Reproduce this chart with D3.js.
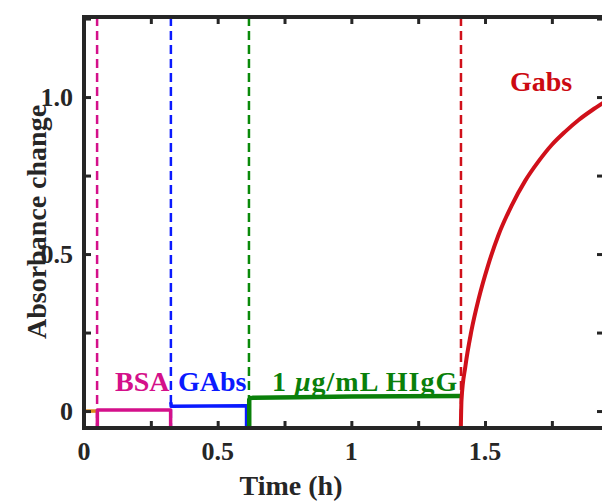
<!DOCTYPE html>
<html>
<head>
<meta charset="utf-8">
<script src="https://cdn.jsdelivr.net/npm/d3@7"></script>
<style>
  body { margin: 0; background: #fff; }
  svg { display: block; }
  text { font-family: "Liberation Serif", "Times New Roman", serif; font-weight: bold; }
</style>
</head>
<body>
<div id="chart"></div>
<script>
// data (time in h, absorbance change)
const xTicks = [0, 0.5, 1, 1.5];
const yTicks = [0, 0.5, 1.0];
const yTickLabels = ['0', '0.5', '1.0'];

const bufferT = [0, 0.049];
const bufferV = [0, 0];

const bsaT = [0.05, 0.05, 0.324, 0.324];
const bsaV = [-0.07, 0.003, 0.003, -0.07];

const gabs1T = [0.325, 0.326, 0.608, 0.608];
const gabs1V = [0.028, 0.015, 0.017, -0.07];

const higgT = [0.618, 0.618, 0.622, 0.63, 0.8, 1.0, 1.2, 1.408];
const higgV = [-0.07, 0.036, 0.041, 0.042, 0.044, 0.046, 0.047, 0.048];

const gabs2T = [1.409, 1.410, 1.412, 1.427, 1.449, 1.477, 1.51, 1.55, 1.60, 1.65, 1.70, 1.75, 1.80, 1.85, 1.90, 1.945];
const gabs2V = [-0.07, -0.03, 0.035, 0.145, 0.255, 0.36, 0.46, 0.56, 0.655, 0.733, 0.795, 0.848, 0.89, 0.927, 0.958, 0.983];

const eventT = [0.049, 0.325, 0.617, 1.41];
const eventColors = ['#d4108a', '#0a1aff', '#0a8a0a', '#d0101a'];

const width = 602;
const height = 501;
const margin = {left: 84, top: 17, right: -2, bottom: 73};

const x = d3.scaleLinear().domain([0, 1.945]).range([margin.left, width - margin.right]);
const y = d3.scaleLinear().domain([-0.054, 1.255]).range([height - margin.bottom, margin.top]);

const svg = d3.select('#chart').append('svg')
    .attr('width', width)
    .attr('height', height);

svg.append('clipPath').attr('id', 'plot')
  .append('rect')
    .attr('x', x(0)).attr('y', y(1.255))
    .attr('width', x(1.945) - x(0))
    .attr('height', y(-0.054) - y(1.255));

const g = svg.append('g').attr('clip-path', 'url(#plot)');

// dashed markers for each injection
g.selectAll('.event')
  .data(eventT)
  .enter()
  .append('line')
    .attr('class', 'event')
    .attr('x1', d => x(d)).attr('x2', d => x(d))
    .attr('y1', y(1.255)).attr('y2', y(-0.054))
    .attr('stroke', (d, i) => eventColors[i])
    .attr('stroke-width', 2.5)
    .attr('stroke-dasharray', '9,5');

const series = [
  {t: bufferT, v: bufferV, color: '#d98a1a', w: 3.5, curve: d3.curveLinear},
  {t: bsaT, v: bsaV, color: '#d4108a', w: 3.5, curve: d3.curveLinear},
  {t: gabs1T, v: gabs1V, color: '#0a1aff', w: 3.5, curve: d3.curveLinear},
  {t: higgT, v: higgV, color: '#0a800a', w: 4.5, curve: d3.curveLinear},
  {t: gabs2T, v: gabs2V, color: '#d0101a', w: 4, curve: d3.curveMonotoneX}
];

series.forEach(s => {
  const line = d3.line()
      .x(d => x(d[0]))
      .y(d => y(d[1]))
      .curve(s.curve);
  g.append('path')
      .datum(s.t.map((t, i) => [t, s.v[i]]))
      .attr('d', line)
      .attr('fill', 'none')
      .attr('stroke', s.color)
      .attr('stroke-width', s.w)
      .attr('stroke-linejoin', 'round');
});

// axes, ticks inward on all four sides
const minorX = d3.range(0, 1.95, 0.25);
const minorY = d3.range(0, 1.26, 0.25);
const axisColor = '#262626';

svg.append('g')
    .attr('transform', `translate(0,${y(-0.054)})`)
    .call(d3.axisBottom(x).tickValues(minorX).tickSize(-7).tickFormat(''))
    .call(a => a.selectAll('line').attr('stroke', axisColor).attr('stroke-width', 3));
svg.append('g')
    .attr('transform', `translate(0,${y(1.255)})`)
    .call(d3.axisTop(x).tickValues(minorX).tickSize(-7).tickFormat(''))
    .call(a => a.selectAll('line').attr('stroke', axisColor).attr('stroke-width', 3));
svg.append('g')
    .attr('transform', `translate(${x(0)},0)`)
    .call(d3.axisLeft(y).tickValues(minorY).tickSize(-7).tickFormat(''))
    .call(a => a.selectAll('line').attr('stroke', axisColor).attr('stroke-width', 3));
svg.append('g')
    .attr('transform', `translate(${x(1.945)},0)`)
    .call(d3.axisRight(y).tickValues(minorY).tickSize(-7).tickFormat(''))
    .call(a => a.selectAll('line').attr('stroke', axisColor).attr('stroke-width', 3));

svg.selectAll('.domain').remove();
svg.append('rect')
    .attr('x', x(0)).attr('y', y(1.255))
    .attr('width', x(1.945) - x(0))
    .attr('height', y(-0.054) - y(1.255))
    .attr('fill', 'none')
    .attr('stroke', axisColor)
    .attr('stroke-width', 4);

// tick labels
svg.selectAll('.xlab')
  .data(xTicks)
  .enter()
  .append('text')
    .attr('x', d => x(d))
    .attr('y', 460)
    .attr('text-anchor', 'middle')
    .attr('font-size', 26)
    .attr('fill', axisColor)
    .text(d => d);

svg.selectAll('.ylab')
  .data(yTicks)
  .enter()
  .append('text')
    .attr('x', 73)
    .attr('y', d => y(d) + 9)
    .attr('text-anchor', 'end')
    .attr('font-size', 26)
    .attr('fill', axisColor)
    .text((d, i) => yTickLabels[i]);

svg.append('text')
    .attr('x', 291).attr('y', 495)
    .attr('text-anchor', 'middle')
    .attr('font-size', 28)
    .attr('fill', axisColor)
    .text('Time (h)');

svg.append('text')
    .attr('transform', 'translate(46,222) rotate(-90)')
    .attr('text-anchor', 'middle')
    .attr('font-size', 28)
    .attr('fill', axisColor)
    .text('Absorbance change');

// segment labels
svg.append('text').attr('x', 115).attr('y', 391).attr('font-size', 28)
    .attr('fill', '#d4108a').text('BSA');
svg.append('text').attr('x', 178).attr('y', 391).attr('font-size', 28)
    .attr('fill', '#0a1aff').text('GAbs');
const hl = svg.append('text').attr('x', 272).attr('y', 391).attr('font-size', 28)
    .attr('letter-spacing', 1)
    .attr('fill', '#0a800a');
hl.append('tspan').text('1 ');
hl.append('tspan').attr('font-style', 'italic').text('\u03bc');
hl.append('tspan').text('g/mL HIgG');
svg.append('text').attr('x', 510).attr('y', 91).attr('font-size', 28)
    .attr('fill', '#cc0a12').text('Gabs');
</script>
</body>
</html>
